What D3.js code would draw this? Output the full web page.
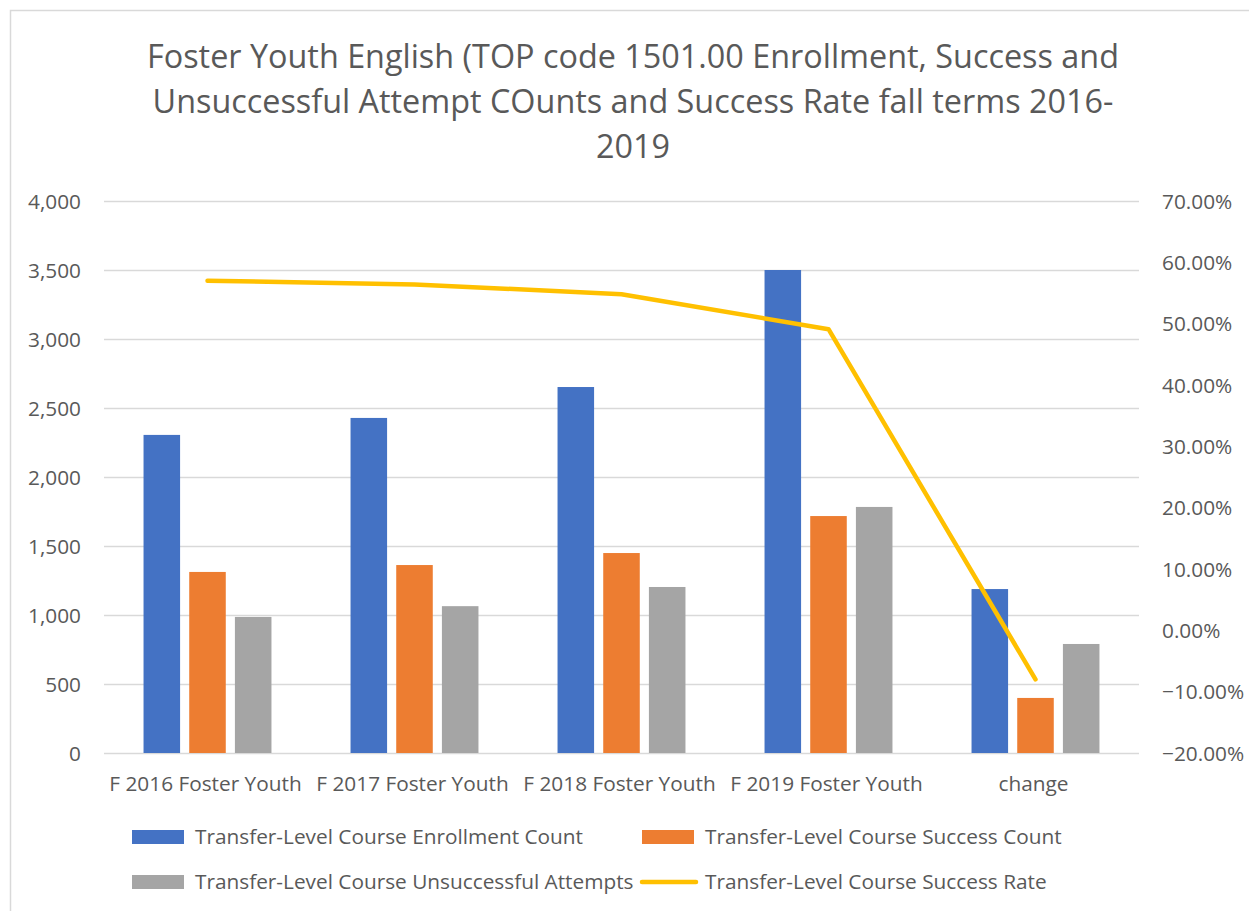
<!DOCTYPE html>
<html>
<head>
<meta charset="utf-8">
<script src="https://cdn.jsdelivr.net/npm/d3@7"></script>
<style>
  body { margin: 0; background: #fff; }
  text { font-family: 'Open Sans', sans-serif; fill: #595959; }
</style>
</head>
<body>
<svg width="1249" height="911"></svg>
<script>
(function () {

  var categories = ['F 2016 Foster Youth', 'F 2017 Foster Youth', 'F 2018 Foster Youth', 'F 2019 Foster Youth', 'change']
  var enrollment = [2305, 2428, 2652, 3500, 1188]
  var success = [1312, 1362, 1449, 1717, 399]
  var unsuccessful = [986, 1064, 1203, 1783, 790]
  var successRate = [0.570, 0.564, 0.548, 0.491, -0.080]
  var seriesNames = [
    'Transfer-Level Course Enrollment Count',
    'Transfer-Level Course Success Count',
    'Transfer-Level Course Unsuccessful Attempts',
    'Transfer-Level Course Success Rate'
  ]
  var titleLines = [
    'Foster Youth English (TOP code 1501.00 Enrollment, Success and',
    'Unsuccessful Attempt COunts and Success Rate fall terms 2016-',
    '2019'
  ]

  var colors = ['#4472c4', '#ed7d31', '#a5a5a5', '#ffc000']
  var barSeries = [enrollment, success, unsuccessful]

  var svg = d3.select('svg')
  var left = 104, right = 1139, top = 201, bottom = 753

  // chart frame
  svg.append('path')
    .attr('d', 'M10.5,911 V10.5 H1249')
    .attr('fill', 'none')
    .attr('stroke', '#d9d9d9')
    .attr('stroke-width', 1.5)

  // title
  var title = svg.append('g').attr('class', 'title')
  title.selectAll('text')
    .data(titleLines)
    .enter().append('text')
    .attr('x', 633)
    .attr('y', function (d, i) { return 68 + i * 45 })
    .attr('text-anchor', 'middle')
    .style('font-size', '32px')
    .text(function (d) { return d })
  var len = title.select('text').node().getComputedTextLength()
  title.selectAll('text').style('font-size', (32 * 972 / len) + 'px')

  var x0 = d3.scaleBand().domain(categories).range([left, right]).paddingInner(0.382).paddingOuter(0.191)
  var x1 = d3.scaleBand().domain([0, 1, 2]).range([0, x0.bandwidth()]).paddingInner(0.2)
  var y = d3.scaleLinear().domain([0, 4000]).range([bottom, top])
  var y2 = d3.scaleLinear().domain([-0.2, 0.7]).range([bottom, top])

  // gridlines
  svg.append('g')
    .selectAll('line')
    .data(y.ticks(8))
    .enter().append('line')
    .attr('x1', left).attr('x2', right)
    .attr('y1', function (d) { return Math.round(y(d)) + 0.5 })
    .attr('y2', function (d) { return Math.round(y(d)) + 0.5 })
    .attr('stroke', '#d9d9d9')
    .attr('stroke-width', 1.3)

  // left axis
  var yAxis = svg.append('g')
    .attr('transform', 'translate(' + (left + 1) + ',0)')
    .call(d3.axisLeft(y).ticks(8).tickSize(0).tickPadding(24).tickFormat(d3.format(',')))
  yAxis.select('.domain').remove()
  yAxis.selectAll('text').style('font-size', '20.8px').attr('fill', '#595959').attr('dy', '0.35em')

  // right axis
  var y2Axis = svg.append('g')
    .attr('transform', 'translate(' + (right + 1) + ',0)')
    .call(d3.axisRight(y2).ticks(9).tickSize(0).tickPadding(22).tickFormat(d3.format('.2%')))
  y2Axis.select('.domain').remove()
  y2Axis.selectAll('text').style('font-size', '20.8px').attr('fill', '#595959').attr('dy', '0.35em')

  // bars
  barSeries.forEach(function (vals, s) {
    svg.append('g')
      .attr('fill', colors[s])
      .selectAll('rect')
      .data(vals)
      .enter().append('rect')
      .attr('x', function (d, i) { return x0(categories[i]) + x1(s) })
      .attr('width', x1.bandwidth())
      .attr('y', function (d) { return y(d) })
      .attr('height', function (d) { return bottom - y(d) })
  })

  // category labels
  svg.append('g')
    .selectAll('text')
    .data(categories)
    .enter().append('text')
    .attr('x', function (d) { return x0(d) + x0.bandwidth() / 2 - 2 })
    .attr('y', 791)
    .attr('text-anchor', 'middle')
    .style('font-size', '20.8px')
    .text(function (d) { return d })

  // success rate line
  var line = d3.line()
    .x(function (d, i) { return x0(categories[i]) + x0.bandwidth() / 2 })
    .y(function (d) { return y2(d) })
  svg.append('path')
    .datum(successRate)
    .attr('d', line)
    .attr('fill', 'none')
    .attr('stroke', colors[3])
    .attr('stroke-width', 4.5)
    .attr('stroke-linecap', 'round')
    .attr('stroke-linejoin', 'round')

  // legend
  var legendPos = [[132, 837], [642, 837], [132, 882], [642, 882]]
  var legend = svg.append('g')
    .selectAll('g')
    .data(seriesNames)
    .enter().append('g')
    .attr('transform', function (d, i) { return 'translate(' + legendPos[i][0] + ',' + legendPos[i][1] + ')' })
  legend.each(function (d, i) {
    var g = d3.select(this)
    if (i < 3) {
      g.append('rect').attr('x', 0).attr('y', -7).attr('width', 52).attr('height', 14).attr('fill', colors[i])
    } else {
      g.append('line').attr('x1', 0).attr('x2', 54).attr('y1', 0).attr('y2', 0)
        .attr('stroke', colors[i]).attr('stroke-width', 4.5).attr('stroke-linecap', 'round')
    }
    g.append('text')
      .attr('x', 63)
      .attr('dy', '0.35em')
      .style('font-size', '20.8px')
      .text(d)
  })

})()
</script>
</body>
</html>
